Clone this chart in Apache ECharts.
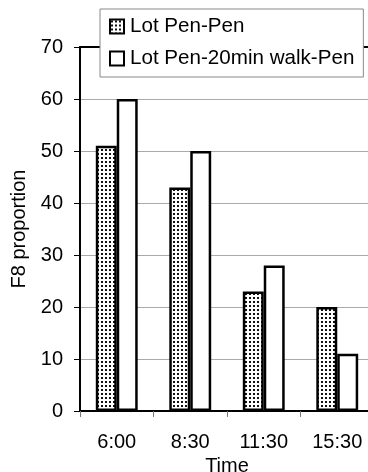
<!DOCTYPE html>
<html><head><meta charset="utf-8">
<script src="https://cdn.jsdelivr.net/npm/echarts@6/dist/echarts.min.js"></script>
<style>html,body{margin:0;padding:0;background:#fff}#c{width:368px;height:472px}</style>
</head><body><div id="c"></div>
<script>
const categories = ['6:00', '8:30', '11:30', '15:30'];
const seriesNames = ['Lot Pen-Pen', 'Lot Pen-20min walk-Pen'];
const penPen = [51, 43, 23, 20];
const penWalkPen = [60, 50, 28, 11];
const yTicks = [0, 10, 20, 30, 40, 50, 60, 70];

const cv = document.createElement('canvas');
cv.width = 4; cv.height = 4;
const cx = cv.getContext('2d');
cx.fillStyle = '#fff'; cx.fillRect(0, 0, 4, 4);
cx.fillStyle = '#111'; cx.fillRect(1, 1, 2, 2);
const dotted = { image: cv, repeat: 'repeat' };

const font = 'Liberation Sans, Arial, sans-serif';
const chart = echarts.init(document.getElementById('c'), null, { renderer: 'canvas' });
chart.setOption({
  backgroundColor: '#fff',
  animation: false,
  grid: { left: 80, top: 47, width: 294, bottom: 61, containLabel: false, outerBoundsMode: 'none' },
  legend: {
    orient: 'vertical', left: 100, top: 9,
    padding: [7, 9, 8, 9], itemGap: 11, itemWidth: 14, itemHeight: 14,
    backgroundColor: '#fff', borderColor: '#888', borderWidth: 1,
    textStyle: { fontFamily: font, fontSize: 20.6, color: '#000', padding: [0, 0, 0, 1] },
    data: [
      { name: seriesNames[0], icon: 'rect', itemStyle: { color: dotted, borderColor: '#000', borderWidth: 2 } },
      { name: seriesNames[1], icon: 'rect', itemStyle: { color: '#fff', borderColor: '#000', borderWidth: 2 } }
    ]
  },
  xAxis: [{
    type: 'category', data: categories,
    name: 'Time', nameLocation: 'middle', nameGap: 40,
    nameTextStyle: { fontFamily: font, fontSize: 20, color: '#000' },
    axisLine: { lineStyle: { color: '#000', width: 2 } },
    axisTick: { show: true, length: 6, lineStyle: { color: '#777' } },
    axisLabel: { fontFamily: font, fontSize: 20, color: '#000', margin: 21 },
    splitLine: { show: false }
  }, {
    type: 'category', data: categories, position: 'top',
    axisLine: { lineStyle: { color: '#000', width: 2 } },
    axisTick: { show: false }, axisLabel: { show: false }
  }],
  yAxis: {
    type: 'value', min: yTicks[0], max: yTicks[yTicks.length - 1], interval: 10,
    name: 'F8 proportion', nameLocation: 'middle', nameGap: 48,
    nameTextStyle: { fontFamily: font, fontSize: 20, color: '#000' },
    axisLine: { show: true, lineStyle: { color: '#000', width: 2 } },
    axisTick: { show: true, length: 6, lineStyle: { color: '#000' } },
    axisLabel: { fontFamily: font, fontSize: 20, color: '#000', margin: 17 },
    splitLine: { show: true, lineStyle: { color: '#aaa', width: 1.2 } }
  },
  series: [
    { name: seriesNames[0], type: 'bar', data: penPen, barGap: '0%', barCategoryGap: '43%',
      itemStyle: { color: dotted, borderColor: '#000', borderWidth: 2.5 } },
    { name: seriesNames[1], type: 'bar', data: penWalkPen, barGap: '0%', barCategoryGap: '43%',
      itemStyle: { color: '#fff', borderColor: '#000', borderWidth: 2.5 } }
  ]
});
</script></body></html>
